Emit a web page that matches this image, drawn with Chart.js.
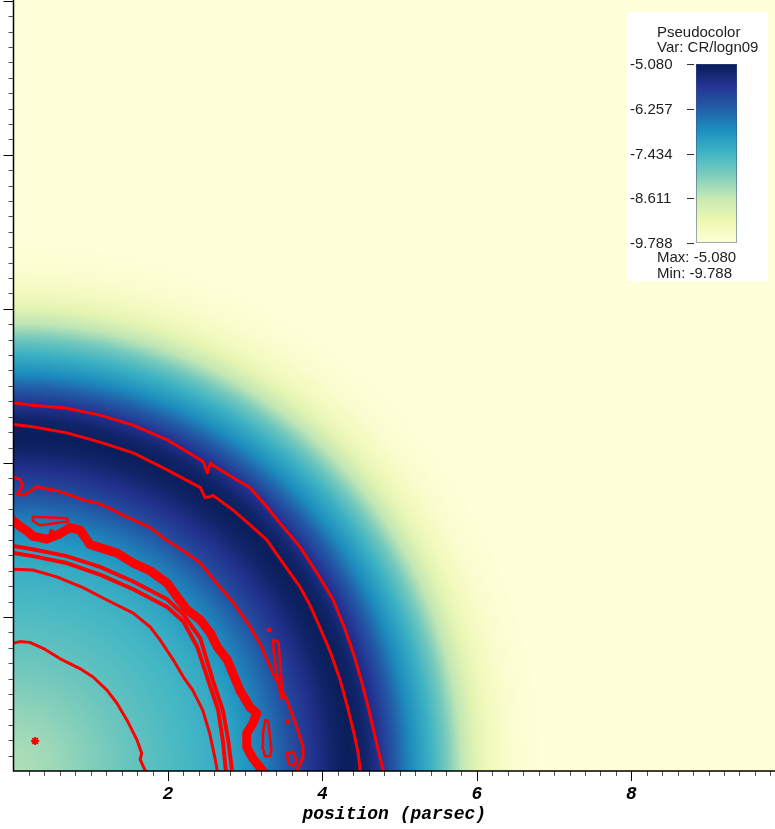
<!DOCTYPE html>
<html>
<head>
<meta charset="utf-8">
<script src="https://cdn.jsdelivr.net/npm/chart.js@4.4.0/dist/chart.umd.min.js"></script>
<style>
  html, body { margin:0; padding:0; background:#fff; }
  canvas { display:block; }
</style>
</head>
<body>
<canvas id="plot" width="775" height="829"></canvas>
<script>
// --- Values ---
const xTickLabels = [2, 4, 6, 8];
const legendTitle = ['Pseudocolor', 'Var: CR/logn09'];
const legendTicks = ['-5.080', '-6.257', '-7.434', '-8.611', '-9.788'];
const legendMinMax = ['Max: -5.080', 'Min: -9.788'];
const varMin = -9.788, varMax = -5.080;

// radial profile of CR/logn09 around the origin (radius in parsec)
const profileR = [0, 0.5, 1.1, 1.7, 2.3, 2.7, 3.0, 3.3, 3.6, 3.9, 4.15, 4.35, 4.55, 4.75, 4.95, 5.15, 5.4, 5.6, 5.8, 6.0, 6.2, 6.5, 6.9];
const profileV = [-8.42, -8.28, -8.0, -7.7, -7.45, -7.25, -6.95, -6.55, -6.05, -5.6, -5.25, -5.1, -5.25, -5.65, -6.2, -6.8, -7.35, -7.9, -8.55, -9.05, -9.4, -9.65, -9.788];

// YlGnBu table used by the colour bar
const cmapColors = ['#ffffd9','#edf8b1','#c7e9b4','#7fcdbb','#41b6c4','#1d91c0','#225ea8','#253494','#081d58'];

// contour lines, [x, y] in parsec
const ringOuter = [[0,4.78],[0.25,4.75],[0.69,4.71],[1.12,4.62],[1.55,4.49],[1.99,4.30],[2.42,4.04],[2.46,4.01],[2.51,3.87],[2.55,4.0],[2.58,3.97],[2.84,3.81],[3.06,3.68],[3.28,3.43],[3.49,3.17],[3.71,2.91],[3.93,2.57],[4.14,2.22],[4.29,1.85],[4.41,1.5],[4.51,1.15],[4.6,0.8],[4.67,0.5],[4.74,0.2],[4.79,0]];
const ringInner = [[0,4.50],[0.25,4.47],[0.69,4.39],[1.12,4.27],[1.55,4.13],[1.99,3.91],[2.42,3.68],[2.48,3.55],[2.55,3.56],[2.58,3.58],[2.84,3.39],[3.06,3.2],[3.28,3.0],[3.49,2.70],[3.71,2.39],[3.84,2.15],[3.96,1.88],[4.1,1.55],[4.23,1.18],[4.32,0.85],[4.4,0.53],[4.46,0.25],[4.49,0]];
const lineC = [[0,3.81],[0.08,3.79],[0.12,3.71],[0.08,3.64],[0.05,3.60],[0.13,3.58],[0.21,3.63],[0.30,3.69],[0.39,3.67],[0.56,3.64],[0.77,3.57],[0.90,3.52],[1.08,3.48],[1.25,3.41],[1.42,3.32],[1.60,3.24],[1.77,3.16],[1.98,3.0],[2.20,2.86],[2.42,2.70],[2.63,2.44],[2.85,2.18],[3.02,1.94],[3.19,1.66],[3.36,1.27],[3.54,0.92],[3.67,0.57],[3.75,0.31],[3.75,0.18],[3.69,0.05],[3.67,0]];
const islandLong = [[3.36,1.70],[3.43,1.68],[3.45,1.44],[3.47,1.18],[3.49,1.01],[3.47,0.94],[3.45,1.04],[3.41,1.27],[3.37,1.53],[3.36,1.70]];
const islandSmall = [[3.54,0.23],[3.62,0.25],[3.67,0.12],[3.62,0.07],[3.56,0.10],[3.54,0.23]];
const bandD = [[0,3.25],[0.08,3.18],[0.17,3.12],[0.25,3.05],[0.43,3.01],[0.60,3.08],[0.73,3.16],[0.86,3.13],[0.93,3.03],[0.99,2.94],[1.12,2.90],[1.34,2.83],[1.55,2.70],[1.77,2.60],[1.99,2.44],[2.12,2.26],[2.25,2.09],[2.42,1.96],[2.55,1.79],[2.64,1.61],[2.77,1.44],[2.93,1.05],[3.06,0.83],[3.15,0.75],[3.10,0.62],[3.02,0.49],[3.02,0.31],[3.09,0.18],[3.19,0.05],[3.23,0]];
const loopD1 = [[0.25,3.30],[0.69,3.28],[0.71,3.24],[0.56,3.22],[0.34,3.19],[0.25,3.25],[0.25,3.30]];
const loopD2 = [[3.26,0.66],[3.30,0.64],[3.32,0.45],[3.34,0.27],[3.32,0.19],[3.26,0.19],[3.22,0.32],[3.23,0.49],[3.26,0.66]];
const lineE1 = [[0,2.92],[0.25,2.88],[0.69,2.79],[1.12,2.65],[1.55,2.46],[1.99,2.23],[2.20,2.03],[2.42,1.72],[2.58,1.18],[2.71,0.79],[2.78,0.40],[2.83,0]];
const lineE2 = [[0,2.83],[0.25,2.79],[0.69,2.70],[1.12,2.55],[1.55,2.36],[1.99,2.13],[2.20,1.94],[2.38,1.61],[2.52,1.18],[2.65,0.79],[2.71,0.40],[2.75,0]];
const lineF = [[0,2.62],[0.25,2.61],[0.56,2.52],[0.90,2.38],[1.21,2.22],[1.55,2.05],[1.77,1.87],[1.90,1.70],[2.07,1.44],[2.20,1.22],[2.32,1.05],[2.45,0.79],[2.54,0.49],[2.60,0.21],[2.64,0]];
const lineG = [[0,1.66],[0.08,1.68],[0.21,1.67],[0.39,1.59],[0.60,1.46],[0.86,1.33],[1.03,1.22],[1.21,1.05],[1.34,0.88],[1.47,0.66],[1.60,0.40],[1.66,0.23],[1.64,0.15],[1.68,0.06],[1.71,0]];
const contourDots = [[3.31,1.83],[3.55,0.64],[0.49,3.11]];
const markerPoint = [[0.28,0.39]];

// --- Colour map ---
function hexToRgb(h){
  const n = parseInt(h.slice(1), 16);
  return [(n>>16)&255, (n>>8)&255, n&255];
}
function cmap(v){
  let t = (v - varMin) / (varMax - varMin);
  t = Math.max(0, Math.min(1, t));
  const f = t * (cmapColors.length - 1);
  const i = Math.min(Math.floor(f), cmapColors.length - 2);
  const u = f - i;
  const a = hexToRgb(cmapColors[i]), b = hexToRgb(cmapColors[i+1]);
  const c = a.map((av, k) => Math.round(av + (b[k] - av) * u));
  return `rgb(${c[0]},${c[1]},${c[2]})`;
}

// --- Plugins ---
// pseudocolor field behind the contours
const fieldPlugin = {
  id: 'field',
  beforeDatasetsDraw(chart){
    const {ctx, chartArea:a, scales:{x, y}} = chart;
    const cx = x.getPixelForValue(0), cy = y.getPixelForValue(0);
    const rMax = profileR[profileR.length-1];
    const R = x.getPixelForValue(rMax) - cx;
    const g = ctx.createRadialGradient(cx, cy, 0, cx, cy, R);
    profileR.forEach((r, i) => g.addColorStop(r / rMax, cmap(profileV[i])));
    ctx.save();
    ctx.fillStyle = g;
    ctx.fillRect(a.left, a.top, a.right - a.left, a.bottom - a.top);
    ctx.restore();
  }
};

// axis lines, major/minor ticks and the colour bar legend
const framePlugin = {
  id: 'frame',
  afterDraw(chart){
    const {ctx, chartArea:a, scales:{x, y}} = chart;
    ctx.save();
    // ticks
    const step = 0.2;
    for(let i = 1; i * step <= y.max + 1e-6; i++){
      const py = Math.round(y.getPixelForValue(i * step)) + 0.5;
      const major = i % 10 === 0;
      ctx.strokeStyle = major ? '#000' : '#555';
      ctx.lineWidth = 1;
      ctx.beginPath();
      ctx.moveTo(a.left - (major ? 10 : 5), py);
      ctx.lineTo(a.left, py);
      ctx.stroke();
    }
    for(let i = 1; i * step <= x.max + 1e-6; i++){
      const px = Math.round(x.getPixelForValue(i * step)) + 0.5;
      const major = i % 10 === 0;
      ctx.strokeStyle = major ? '#000' : '#555';
      ctx.lineWidth = 1;
      ctx.beginPath();
      ctx.moveTo(px, a.bottom);
      ctx.lineTo(px, a.bottom + (major ? 10 : 5));
      ctx.stroke();
    }
    // axis lines
    ctx.strokeStyle = '#000';
    ctx.lineWidth = 1.5;
    ctx.beginPath();
    ctx.moveTo(a.left, a.top);
    ctx.lineTo(a.left, a.bottom);
    ctx.lineTo(a.right, a.bottom);
    ctx.stroke();

    // legend box
    ctx.fillStyle = '#ffffff';
    ctx.fillRect(627, 12, 141, 269);
    ctx.fillStyle = '#222';
    ctx.font = '15px "Liberation Sans", Arial, sans-serif';
    ctx.textBaseline = 'middle';
    ctx.textAlign = 'left';
    ctx.fillText(legendTitle[0], 657, 33);
    ctx.fillText(legendTitle[1], 657, 47.5);

    const barL = 696, barR = 737, barT = 64, barB = 243;
    const lg = ctx.createLinearGradient(0, barB, 0, barT);
    cmapColors.forEach((c, i) => lg.addColorStop(i / (cmapColors.length - 1), c));
    ctx.fillStyle = lg;
    ctx.fillRect(barL, barT, barR - barL, barB - barT);
    ctx.strokeStyle = 'rgba(60,80,140,0.5)';
    ctx.lineWidth = 1;
    ctx.strokeRect(barL + 0.5, barT + 0.5, barR - barL - 1, barB - barT - 1);

    legendTicks.forEach((t, i) => {
      const ty = barT + i * (barB - barT) / (legendTicks.length - 1);
      ctx.strokeStyle = '#333';
      ctx.beginPath();
      ctx.moveTo(687, Math.round(ty) + 0.5);
      ctx.lineTo(694, Math.round(ty) + 0.5);
      ctx.stroke();
      ctx.fillStyle = '#222';
      ctx.fillText(t, 630, ty + 1);
    });
    ctx.fillText(legendMinMax[0], 657, 258);
    ctx.fillText(legendMinMax[1], 657, 274);
    ctx.restore();
  }
};

// --- Datasets ---
const toXY = pts => pts.map(p => ({x: p[0], y: p[1]}));
function contour(pts, width){
  return {data: toXY(pts), showLine: true, borderColor: '#ff0000', borderWidth: width,
          pointRadius: 0, fill: false, clip: 0};
}
const datasets = [
  contour(ringOuter, 3),
  contour(ringInner, 3),
  contour(lineC, 3),
  contour(islandLong, 2.5),
  contour(islandSmall, 2.5),
  contour(bandD, 9),
  contour(loopD1, 2.5),
  contour(loopD2, 2.5),
  contour(lineE1, 4),
  contour(lineE2, 4),
  contour(lineF, 3),
  contour(lineG, 3),
  {data: toXY(contourDots), pointRadius: 2.5, pointBackgroundColor: '#ff0000', pointBorderWidth: 0, clip: 0},
  {data: toXY(markerPoint), pointStyle: 'star', pointRadius: 4, pointBorderColor: '#ff0000', pointBorderWidth: 2, clip: 0}
];

// --- Chart ---
const monoFont = {family: '"Liberation Mono", "DejaVu Sans Mono", monospace', size: 18, weight: 'bold', style: 'italic'};
new Chart(document.getElementById('plot').getContext('2d'), {
  type: 'scatter',
  data: {datasets},
  options: {
    responsive: false,
    animation: false,
    devicePixelRatio: 1,
    layout: {autoPadding: false, padding: {left: 13.5, top: 0, right: 0, bottom: 0}},
    elements: {line: {tension: 0, borderJoinStyle: 'round', borderCapStyle: 'round'}},
    plugins: {legend: {display: false}, tooltip: {enabled: false}},
    scales: {
      x: {
        type: 'linear', min: 0, max: 9.86,
        afterFit(s){ s.height = 58; },
        grid: {display: false},
        border: {display: false},
        ticks: {
          stepSize: 2, includeBounds: false, autoSkip: false, maxRotation: 0,
          padding: 5, color: '#000', font: monoFont,
          callback: v => xTickLabels.includes(v) ? String(v) : ''
        },
        title: {display: true, text: 'position (parsec)', color: '#000', font: monoFont, padding: {top: 0, bottom: 4}}
      },
      y: {type: 'linear', min: 0, max: 10.01, display: false}
    }
  },
  plugins: [fieldPlugin, framePlugin]
});
</script>
</body>
</html>
